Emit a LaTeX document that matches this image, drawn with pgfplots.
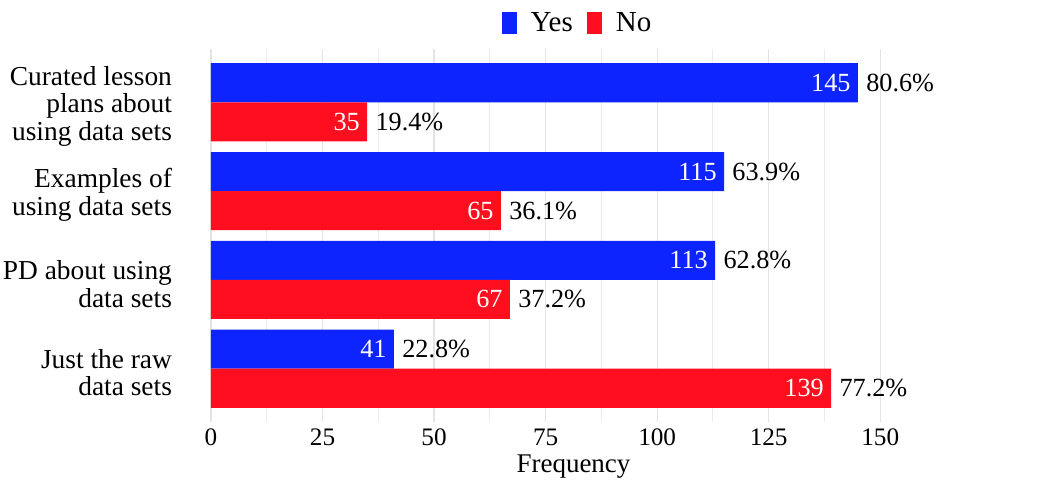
\documentclass[border=0pt]{standalone}
\usepackage{fontspec}
\setmainfont{Liberation Serif}
\usepackage{pgfplots}
\usepackage{pgfplotstable}
\pgfplotsset{compat=1.18}
\definecolor{yesblue}{RGB}{14,36,255}
\definecolor{nored}{RGB}{255,14,32}
\definecolor{gridgray}{RGB}{228,228,228}
\pgfplotstableread{
y count pct
0 145 80.6
1 115 63.9
2 113 62.8
3 41 22.8
}\yestab
\pgfplotstableread{
y count pct
0 35 19.4
1 65 36.1
2 67 37.2
3 139 77.2
}\notab
\begin{document}
\begin{tikzpicture}
\useasboundingbox (-105.5pt,-31pt) rectangle (419.5pt,211pt);
\begin{axis}[
  scale only axis,
  width=362.5pt, height=186.5pt,
  xbar,
  y dir=reverse,
  xmin=0, xmax=162.5,
  ymin=-0.6, ymax=3.6,
  ytick={0,1,2,3},
  yticklabels={{Curated lesson\\plans about\\using data sets},{Examples of\\using data sets},{PD about using\\data sets},{Just the raw\\data sets}},
  yticklabel style={align=right, xshift=-16pt, yshift=-2pt, font=\fontsize{13.7}{13.9}\selectfont},
  xtick={0,25,50,75,100,125,150},
  xticklabel style={font=\fontsize{12.6}{14}\selectfont},
  minor x tick num=1,
  xmajorgrids, xminorgrids,
  major grid style={draw=gridgray, line width=0.6pt},
  minor grid style={draw=gridgray!70, line width=0.5pt},
  axis line style={draw=none},
  major tick length=0pt, minor tick length=0pt,
  /pgf/number format/assume math mode=true,
  xlabel={Frequency},
  xlabel style={yshift=2.5pt, font=\fontsize{13.5}{15}\selectfont},
  legend style={at={(0.5,1)}, anchor=center, yshift=13pt, xshift=2.5pt, draw=none, fill=none,
    font=\fontsize{14.5}{16}\selectfont,
    legend columns=-1, /tikz/every even column/.append style={column sep=5pt}},
  legend image code/.code={\fill[#1] (0pt,-5.7pt) rectangle (7.5pt,5.7pt); \path (12.5pt,0pt);},
]
\addplot[bar width=0.44, bar shift=-0.22, fill=yesblue, draw=none,
  nodes near coords, point meta=explicit symbolic,
  nodes near coords style={anchor=east, text=white, inner sep=3.5pt, font=\fontsize{13.1}{14}\selectfont}]
  table[x=count, y=y, meta=count]{\yestab};
\addlegendentry{Yes}
\addplot[bar width=0.44, bar shift=0.22, fill=nored, draw=none,
  nodes near coords, point meta=explicit symbolic,
  nodes near coords style={anchor=east, text=white, inner sep=3.5pt, font=\fontsize{13.1}{14}\selectfont}]
  table[x=count, y=y, meta=count]{\notab};
\addlegendentry{No}
\addplot[forget plot, bar width=0.44, bar shift=-0.22, fill=none, draw=none,
  nodes near coords={\pgfplotspointmeta\%}, point meta=explicit symbolic,
  nodes near coords style={anchor=west, text=black, inner sep=2pt, xshift=2pt, font=\fontsize{13.1}{14}\selectfont}]
  table[x=count, y=y, meta=pct]{\yestab};
\addplot[forget plot, bar width=0.44, bar shift=0.22, fill=none, draw=none,
  nodes near coords={\pgfplotspointmeta\%}, point meta=explicit symbolic,
  nodes near coords style={anchor=west, text=black, inner sep=2pt, xshift=2pt, font=\fontsize{13.1}{14}\selectfont}]
  table[x=count, y=y, meta=pct]{\notab};
\end{axis}
\end{tikzpicture}
\end{document}
